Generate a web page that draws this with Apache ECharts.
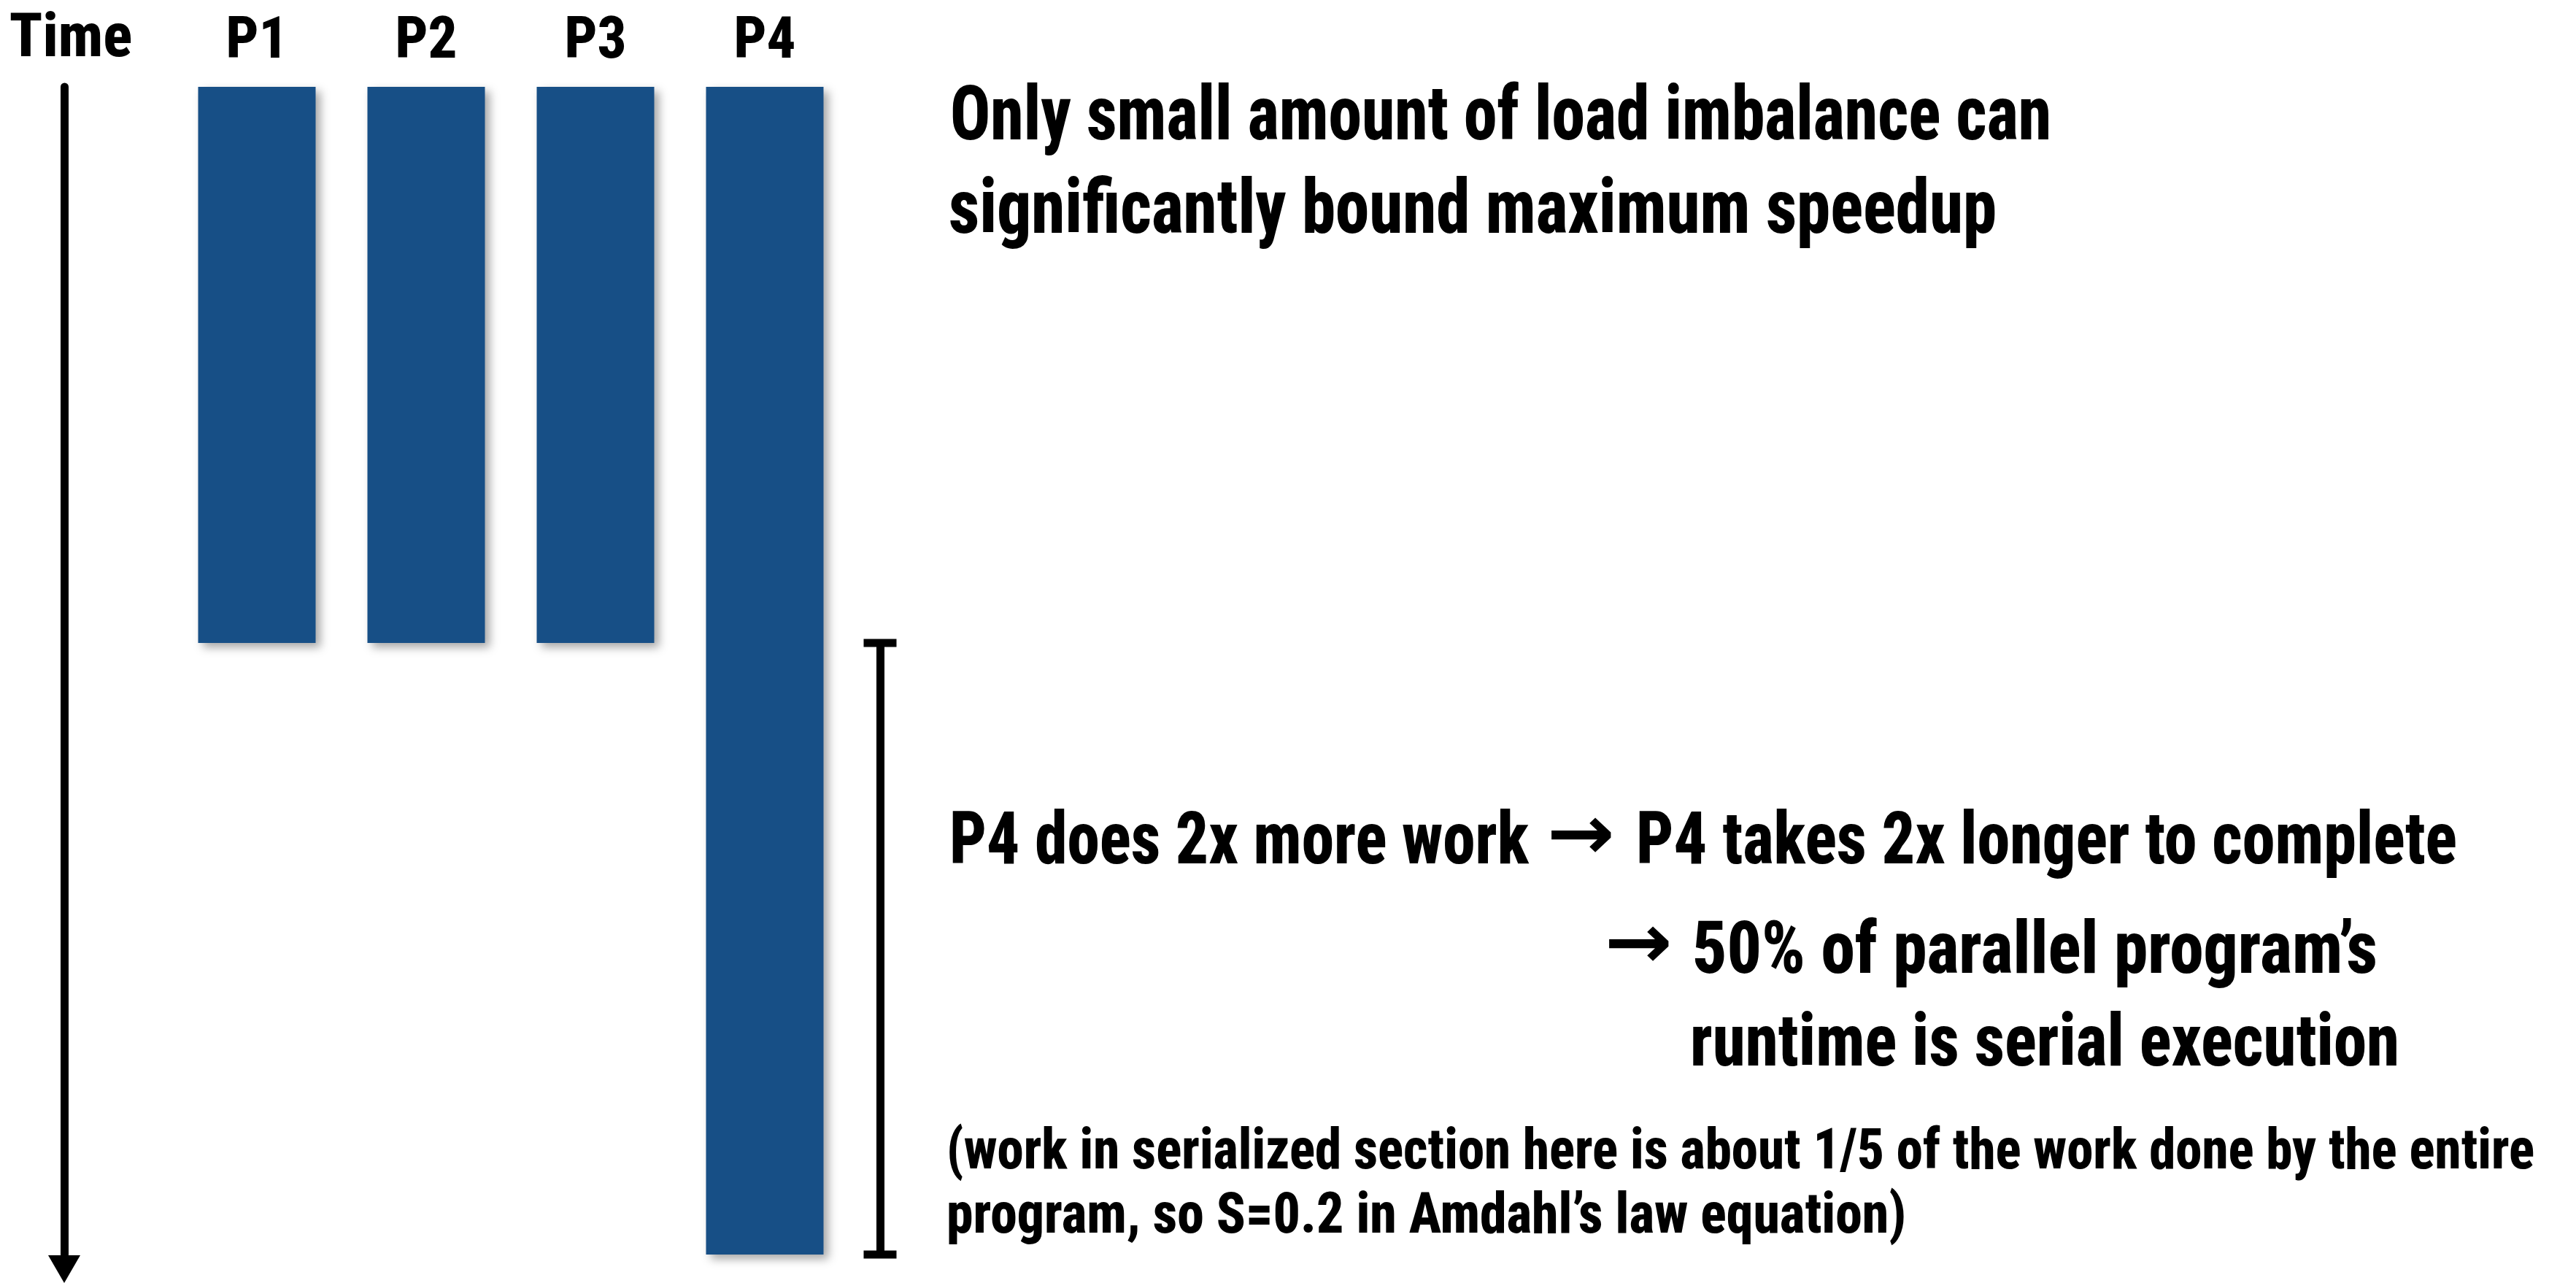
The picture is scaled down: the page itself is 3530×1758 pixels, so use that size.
<!DOCTYPE html>
<html>
<head>
<meta charset="utf-8">
<title>Load imbalance</title>
<script src="https://cdn.jsdelivr.net/npm/echarts@6/dist/echarts.min.js"></script>
<style>
  html, body { margin: 0; padding: 0; background: #fff; }
  #main { width: 3530px; height: 1758px; }
</style>
</head>
<body>
<div id="main"></div>
<script>
// how long each processor runs (in units of P1's time)
var processors = ['P1', 'P2', 'P3', 'P4'];
var runTime = [1.0, 1.0, 1.0, 2.1];
var timeMax = 2.1;

var headline = ['Only small amount of load imbalance can', 'significantly bound maximum speedup'];
var noteMain = ['P4 does 2x more work', 'P4 takes 2x longer to complete',
                '50% of parallel program\u2019s', 'runtime is serial execution'];
var noteSmall = ['(work in serialized section here is about 1/5 of the work done by the entire',
                 'program, so S=0.2 in Amdahl\u2019s law equation)'];
var arrow = '\u2192';

// pick the narrow bold face that comes closest to the slide's condensed font
var ctx = document.createElement('canvas').getContext('2d');
function fontStr(c, size) {
    return [c.weight, c.stretch, size + 'px', c.family].join(' ').replace(/\s+/g, ' ').trim();
}
function measureFont(font, s) {
    ctx.font = '10px serif';
    ctx.font = font;
    var ok = ctx.font !== '10px serif';
    ctx.textBaseline = 'middle';
    ctx.textAlign = 'left';
    var h = ctx.measureText('H');
    var t = ctx.measureText(s);
    return {
        ok: ok,
        width: t.width,
        left: t.actualBoundingBoxLeft, right: t.actualBoundingBoxRight,
        top: t.actualBoundingBoxAscent, bottom: t.actualBoundingBoxDescent,
        asc: h.actualBoundingBoxAscent,
        base: h.actualBoundingBoxDescent,
        lh: ctx.measureText('\u56fd').width
    };
}
function measure(c, size, s) { return measureFont(fontStr(c, size), s); }

var candidates = [
    { weight: '800', stretch: 'extra-condensed', family: "'Noto Sans'" },
    { weight: '800', stretch: 'condensed', family: "'Noto Sans'" },
    { weight: '800', stretch: 'semi-condensed', family: "'Noto Sans'" },
    { weight: '800', stretch: '', family: "'Noto Sans Condensed'" },
    { weight: '800', stretch: '', family: "'Liberation Sans Narrow'" },
    { weight: '800', stretch: '', family: "'DejaVu Sans Condensed'" },
    { weight: '800', stretch: 'condensed', family: "'DejaVu Sans'" },
    { weight: '800', stretch: '', family: "'Roboto Condensed'" },
    { weight: '800', stretch: 'condensed', family: "'Open Sans'" },
    { weight: '800', stretch: '', family: "'Liberation Sans'" }
];
var best = candidates[candidates.length - 1], bestErr = Infinity;
candidates.forEach(function (c) {
    var m = measure(c, 100, headline[0]);
    if (!m.ok) return;
    var w = m.width * 74 / (m.asc + m.base);
    var err = Math.abs(w - 1509);
    if (err < bestErr) { bestErr = err; best = c; }
});

function sizeForCap(s, cap) {
    var m = measure(best, 100, s);
    return 100 * cap / (m.asc + m.base);
}

// one run of slide text, stretched to the width it has on the slide
function textLine(s, left, baseline, cap, width) {
    var size = sizeForCap(s, cap);
    var m = measure(best, size, s);
    return {
        type: 'text', x: left, y: baseline - m.base, scaleX: width / m.width, silent: true,
        style: {
            text: s, font: fontStr(best, size), fill: '#000',
            align: 'left', verticalAlign: 'middle', textAlign: 'left', textVerticalAlign: 'middle'
        }
    };
}

// the bold arrow glyph, fitted to its ink box on the slide
function arrowGlyph(inkLeft, inkRight, centerY, headH) {
    var fam = "'DejaVu Sans'";
    var m0 = measureFont('bold 100px ' + fam, arrow);
    var size = 100 * headH / (m0.top + m0.bottom);
    var font = 'bold ' + size + 'px ' + fam;
    var m = measureFont(font, arrow);
    var s = (inkRight - inkLeft) / (m.left + m.right);
    return {
        type: 'text', x: inkLeft + m.left * s, y: centerY - (m.bottom - m.top) / 2, scaleX: s, silent: true,
        style: {
            text: arrow, font: font, fill: '#000',
            align: 'left', verticalAlign: 'middle', textAlign: 'left', textVerticalAlign: 'middle'
        }
    };
}

var gridTop = 119;
var pSize = sizeForCap('P1', 56);
var pm = measure(best, pSize, 'P1');
var pMargin = gridTop - pm.lh / 2 - (79 - pm.base);
var tSize = sizeForCap('Time', 59);
var tm = measure(best, tSize, 'Time');
var tGap = gridTop - tm.lh / 2 - (77 - tm.base);
var weightStr = (best.weight + ' ' + best.stretch).trim();

var chart = echarts.init(document.getElementById('main'));
chart.setOption({
    animation: false,
    backgroundColor: '#fff',
    grid: { left: 236, top: gridTop, width: 928, height: 1600, containLabel: false, outerBoundsMode: 'none' },
    xAxis: {
        type: 'category',
        position: 'top',
        data: processors,
        axisLine: { show: false },
        axisTick: { show: false },
        splitLine: { show: false },
        axisLabel: { color: '#000', fontSize: pSize, fontWeight: weightStr, fontFamily: best.family, margin: pMargin }
    },
    yAxis: {
        type: 'value',
        inverse: true,
        min: 0,
        max: timeMax,
        position: 'left',
        offset: 148,
        name: 'Time',
        nameLocation: 'start',
        nameGap: tGap,
        nameTextStyle: { color: '#000', fontSize: tSize, fontWeight: weightStr, fontFamily: best.family, padding: [0, 0, 0, 18] },
        axisLine: {
            show: true,
            symbol: ['triangle', 'none'],
            symbolSize: [44, 38],
            symbolOffset: [-20, 0],
            lineStyle: { color: '#000', width: 11 }
        },
        axisTick: { show: false },
        axisLabel: { show: false },
        splitLine: { show: false }
    },
    series: [{
        type: 'bar',
        data: runTime,
        barWidth: 161,
        emphasis: { disabled: true },
        itemStyle: {
            color: '#174f86',
            shadowColor: 'rgba(0,0,0,0.35)',
            shadowBlur: 12,
            shadowOffsetX: 6,
            shadowOffsetY: 6
        },
        // bracket over the part where only P4 is still running
        markLine: {
            silent: true,
            animation: false,
            symbol: ['rect', 'rect'],
            symbolSize: [45, 11],
            label: { show: false },
            emphasis: { disabled: true },
            lineStyle: { color: '#000', width: 11, type: 'solid', opacity: 1 },
            data: [[{ x: 1206, yAxis: runTime[0] }, { x: 1206, yAxis: runTime[3] }]]
        }
    }],
    graphic: [
        textLine(headline[0], 1302, 192, 74, 1509),
        textLine(headline[1], 1300, 320, 74, 1436),
        textLine(noteMain[0], 1301, 1183, 71, 794),
        arrowGlyph(2125, 2208, 1144, 48),
        textLine(noteMain[1], 2242, 1183, 71, 1125),
        arrowGlyph(2204, 2287, 1293, 48),
        textLine(noteMain[2], 2319, 1333, 71, 939),
        textLine(noteMain[3], 2316, 1460, 71, 972),
        textLine(noteSmall[0], 1297, 1602, 55, 2176),
        textLine(noteSmall[1], 1297, 1690, 55, 1315)
    ]
});
</script>
</body>
</html>
